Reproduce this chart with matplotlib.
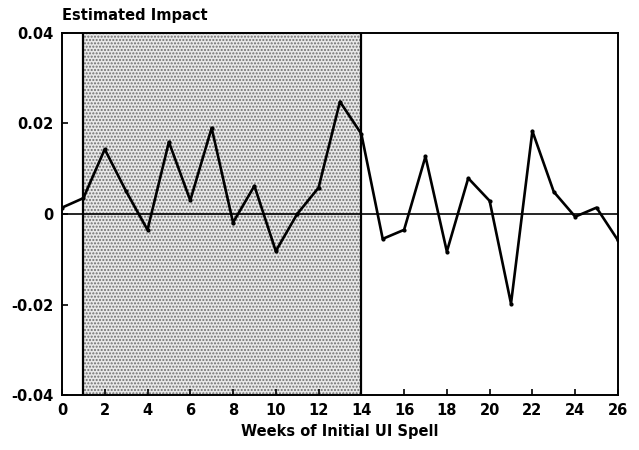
import matplotlib
matplotlib.use('Agg')
from matplotlib import pyplot as plt

# estimated impact by week of initial UI spell
weeks = list(range(27))
impact = [0.0014, 0.0035, 0.0143, 0.0050, -0.0035, 0.0159, 0.0030, 0.0190,
          -0.0019, 0.0062, -0.0082, 0.0000, 0.0058, 0.0248, 0.0177, -0.0055,
          -0.0035, 0.0127, -0.0083, 0.0079, 0.0029, -0.0198, 0.0183, 0.0049,
          -0.0006, 0.0014, -0.0058]

shade_start, shade_end = 1, 14
x_ticks = list(range(0, 27, 2))
y_ticks = [-0.04, -0.02, 0, 0.02, 0.04]
y_labels = ['-0.04', '-0.02', '0', '0.02', '0.04']

plt.rcParams['font.family'] = ['DejaVu Sans']
plt.rcParams['hatch.linewidth'] = 1.0

fig = plt.figure(figsize=(6.39, 4.5), dpi=100)
ax = fig.add_axes([0.097, 0.122, 0.870, 0.805])

# stippled region
ax.axvspan(shade_start, shade_end, facecolor='#e8e8e8', edgecolor='#6e6e6e',
           hatch='.....', linewidth=0, zorder=0)
ax.axvline(shade_start, color='black', lw=1.6, zorder=2)
ax.axvline(shade_end, color='black', lw=1.6, zorder=2)
ax.axhline(0, color='black', lw=1.2, zorder=2)

ax.plot(weeks, impact, color='black', lw=1.9, marker='o', ms=2, zorder=3)

ax.set_xlim(0, 26)
ax.set_ylim(-0.04, 0.04)
ax.set_xticks(x_ticks)
ax.set_yticks(y_ticks)
ax.set_yticklabels(y_labels)
ax.tick_params(direction='in', length=4, width=1.2, labelsize=10.5, pad=6)
for lab in ax.get_xticklabels() + ax.get_yticklabels():
    lab.set_fontweight('heavy')
for sp in ax.spines.values():
    sp.set_linewidth(1.4)

fig.text(0.097, 0.965, 'Estimated Impact', fontsize=10.5, fontweight='heavy',
         ha='left', va='center')
ax.set_xlabel('Weeks of Initial UI Spell', fontsize=10.5, fontweight='heavy',
              labelpad=4)

fig.savefig('out.png', dpi=100)
